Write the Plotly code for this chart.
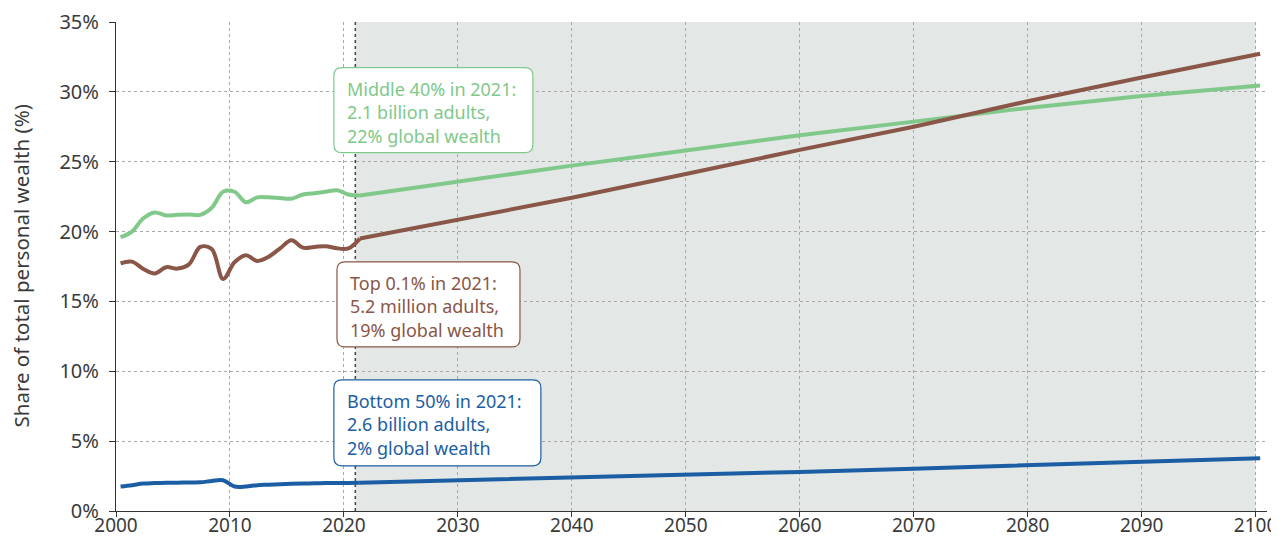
import plotly.graph_objects as go

# ---- data ----
hist_years = [2000.4 + i for i in range(22)]
middle40_hist = [19.6, 20.0, 20.95, 21.37, 21.15, 21.2, 21.22, 21.2, 21.7, 22.85, 22.85,
                 22.1, 22.45, 22.45, 22.4, 22.35, 22.65, 22.75, 22.85, 22.95, 22.65, 22.58]
top01_hist = [17.73, 17.85, 17.32, 17.0, 17.45, 17.35, 17.65, 18.9, 18.75, 16.6, 17.8,
              18.3, 17.9, 18.2, 18.8, 19.38, 18.85, 18.9, 18.95, 18.8, 18.8, 19.5]
bottom50_hist = [1.75, 1.85, 1.97, 2.0, 2.02, 2.03, 2.04, 2.05, 2.15, 2.2, 1.75,
                 1.75, 1.85, 1.88, 1.92, 1.95, 1.97, 1.98, 2.0, 2.0, 2.01, 2.02]

proj_years = [2021.4, 2030, 2040, 2050, 2060, 2070, 2080, 2090, 2100.4]
middle40_proj = [22.58, 23.58, 24.72, 25.81, 26.9, 27.87, 28.85, 29.7, 30.45]
top01_proj = [19.5, 20.84, 22.42, 24.12, 25.85, 27.5, 29.33, 31.03, 32.73]
bottom50_proj = [2.02, 2.18, 2.37, 2.57, 2.8, 3.03, 3.27, 3.52, 3.78]

projection_start = 2021
projection_end = 2100
x_ticks = list(range(2000, 2101, 10))
y_ticks = list(range(0, 36, 5))

GREEN = "#80c98b"
BROWN = "#8a5647"
BLUE = "#1b5ea4"
FONT = "Noto Sans"
TXT = "#3a3a3a"

fig = go.Figure()

series = [
    (middle40_hist, middle40_proj, GREEN),
    (top01_hist, top01_proj, BROWN),
    (bottom50_hist, bottom50_proj, BLUE),
]
for hist, proj, col in series:
    fig.add_trace(go.Scatter(x=hist_years, y=hist, mode="lines",
                             line=dict(color=col, width=4, shape="spline", smoothing=1.0),
                             showlegend=False, hoverinfo="skip"))
    fig.add_trace(go.Scatter(x=proj_years, y=proj, mode="lines",
                             line=dict(color=col, width=4),
                             showlegend=False, hoverinfo="skip"))

# projection shading
fig.add_shape(type="rect", xref="x", yref="paper", x0=projection_start, x1=projection_end,
              y0=0, y1=1, fillcolor="#e3e7e6", line=dict(width=0), layer="below")
fig.add_shape(type="line", xref="x", yref="paper", x0=projection_start, x1=projection_start,
              y0=0, y1=1, line=dict(color="#444444", width=1.5, dash="3px,3px"), layer="below")

# annotation boxes with rounded corners
def rounded_box(x, y, w, h, col, r=8):
    path = (f"M {r},0 L {w-r},0 Q {w},0 {w},{-r} L {w},{-h+r} Q {w},{-h} {w-r},{-h} "
            f"L {r},{-h} Q 0,{-h} 0,{-h+r} L 0,{-r} Q 0,0 {r},0 Z")
    fig.add_shape(type="path", xref="x", yref="y", xsizemode="pixel", ysizemode="pixel",
                  xanchor=x, yanchor=y, path=path, fillcolor="white",
                  line=dict(color=col, width=1.2), layer="above")

boxes = [
    (2019.12, 31.73, 199, 85, GREEN, "Middle 40% in 2021:<br>2.1 billion adults,<br>22% global wealth"),
    (2019.39, 17.83, 183, 85, BROWN, "Top 0.1% in 2021:<br>5.2 million adults,<br>19% global wealth"),
    (2019.12, 9.39, 207, 86, BLUE, "Bottom 50% in 2021:<br>2.6 billion adults,<br>2% global wealth"),
]
for x, y, w, h, col, txt in boxes:
    rounded_box(x, y, w, h, col)
    fig.add_annotation(x=x, y=y, xref="x", yref="y", xanchor="left", yanchor="top",
                       xshift=11, yshift=-7, text=txt, showarrow=False, align="left",
                       font=dict(family=FONT, size=18, color=col))

# y-axis title as rotated text
fig.add_annotation(x=-0.0834, y=0.5, xref="paper", yref="paper", xanchor="center",
                   yanchor="middle", textangle=-90, showarrow=False,
                   text="Share of total personal wealth (%)",
                   font=dict(family=FONT, size=20.5, color=TXT))

# page body has an 8px margin, so the figure is sized/offset to compensate
fig.update_layout(
    width=1271, height=530,
    margin=dict(l=108, r=12, t=14, b=27),
    plot_bgcolor="white", paper_bgcolor="white",
    font=dict(family=FONT, size=20, color=TXT),
)
fig.update_xaxes(range=[2000, 2101], tickvals=x_ticks, ticktext=[str(v) for v in x_ticks],
                 automargin=False,
                 showgrid=True, gridcolor="#a8a8a8", griddash="dot", gridwidth=1,
                 showline=True, linecolor="#333333", linewidth=1.2,
                 ticks="outside", ticklen=5, tickcolor="#333333", zeroline=False,
                 ticklabelstandoff=-8,
                 tickfont=dict(size=19, color=TXT))
fig.update_yaxes(range=[0, 35], tickvals=y_ticks, ticktext=[f"{v}%" for v in y_ticks],
                 automargin=False,
                 showgrid=True, gridcolor="#a8a8a8", griddash="dot", gridwidth=1,
                 showline=True, linecolor="#333333", linewidth=1.2,
                 ticks="outside", ticklen=6, tickcolor="#333333", zeroline=False,
                 ticklabelstandoff=6,
                 tickfont=dict(size=20, color=TXT))

fig.write_html("out.html")
